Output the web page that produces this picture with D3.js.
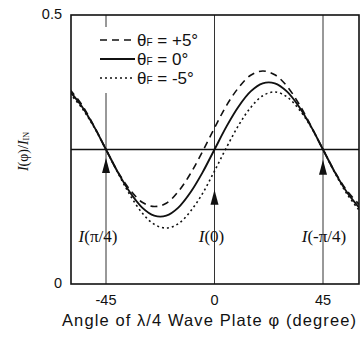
<!DOCTYPE html>
<html>
<head>
<meta charset="utf-8">
<script src="https://cdn.jsdelivr.net/npm/d3@7/dist/d3.min.js"></script>
<style>
  body { margin: 0; background: #fff; }
  svg { display: block; }
  .tick-label { font-family: "Liberation Sans", Arial, sans-serif; font-size: 14.5px; fill: #111; }
</style>
</head>
<body>
<div id="chart"></div>
<script>
// angle of the wave plate (degree)
const phi = [-60, -55, -50, -45, -40, -35, -30, -25, -20, -15, -10, -5, 0,
             5, 10, 15, 20, 25, 30, 35, 40, 45, 50, 55, 60];
// I(phi)/I_IN
const plus5  = [0.362, 0.333, 0.294, 0.25, 0.208, 0.175, 0.152, 0.144, 0.150, 0.172, 0.205, 0.246, 0.290,
                0.332, 0.365, 0.388, 0.396, 0.389, 0.368, 0.335, 0.294, 0.25, 0.208, 0.173, 0.148];
const zero   = [0.358, 0.330, 0.293, 0.25, 0.207, 0.170, 0.142, 0.127, 0.127, 0.142, 0.170, 0.207, 0.250,
                0.293, 0.330, 0.358, 0.373, 0.373, 0.358, 0.330, 0.293, 0.25, 0.207, 0.170, 0.142];
const minus5 = [0.354, 0.327, 0.292, 0.25, 0.206, 0.165, 0.132, 0.111, 0.104, 0.112, 0.135, 0.168, 0.210,
                0.254, 0.295, 0.328, 0.350, 0.357, 0.348, 0.325, 0.292, 0.25, 0.206, 0.167, 0.137];

const xTicks = [-45, 0, 45];
const yTicks = [0, 0.5];
const refLevel = 0.25;
// marked points: angle, arrow tip level, label
const marks = [-45, 0, 45];
const markTip = [0.234, 0.175, 0.231];
const markLabel = ["(π/4)", "(0)", "(-π/4)"];
const legendNames = ["+5°", "0°", "-5°"];

const W = 363, H = 337;
const box = { left: 71, right: 359, top: 15, bottom: 284 };

const x = d3.scaleLinear().domain([-45, 45]).range([106, 323]);
const y = d3.scaleLinear().domain([0, 0.5]).range([box.bottom, box.top]);

const svg = d3.select("#chart").append("svg").attr("width", W).attr("height", H);

svg.append("clipPath").attr("id", "clip")
  .append("rect").attr("x", box.left).attr("y", box.top)
  .attr("width", box.right - box.left).attr("height", box.bottom - box.top);

// vertical guide lines
svg.selectAll(".vline").data(marks).enter().append("line")
  .attr("x1", d => x(d)).attr("x2", d => x(d))
  .attr("y1", box.top).attr("y2", box.bottom)
  .attr("stroke", "#333").attr("stroke-width", 1);

// reference level
svg.append("line")
  .attr("x1", box.left).attr("x2", box.right)
  .attr("y1", y(refLevel)).attr("y2", y(refLevel))
  .attr("stroke", "#111").attr("stroke-width", 1.5);

// legend background hides the guide line behind it
svg.append("rect").attr("x", 96).attr("y", 27).attr("width", 113).attr("height", 66).attr("fill", "#fff");

const series = [
  { v: plus5, dash: "7,5", w: 1.6 },
  { v: zero, dash: null, w: 1.9 },
  { v: minus5, dash: "2,3", w: 1.6 }
];

const line = d3.line().x((d, i) => x(phi[i])).y(d => y(d)).curve(d3.curveCatmullRom);

const g = svg.append("g").attr("clip-path", "url(#clip)");
series.forEach(s => {
  g.append("path").datum(s.v)
    .attr("d", line)
    .attr("fill", "none")
    .attr("stroke", "#111")
    .attr("stroke-width", s.w)
    .attr("stroke-dasharray", s.dash);
});

// arrows
svg.selectAll(".arrow").data(marks).enter().append("path")
  .attr("d", (d, i) => {
    const cx = x(d), ty = y(markTip[i]);
    return `M${cx},${ty} L${cx - 4},${ty + 15} L${cx + 4},${ty + 15} Z`;
  })
  .attr("fill", "#111");

// mark labels
const lab = svg.selectAll(".mlab").data(marks).enter().append("text")
  .attr("x", (d, i) => x(d) + [-8, -3, 1][i])
  .attr("y", y(0.078))
  .attr("text-anchor", "middle")
  .style("font-family", "'Liberation Serif', 'Times New Roman', serif")
  .style("font-size", "17px")
  .attr("fill", "#111");
lab.append("tspan").style("font-style", "italic").text("I");
lab.append("tspan").text((d, i) => markLabel[i]);

// frame
svg.append("rect")
  .attr("x", box.left).attr("y", box.top)
  .attr("width", box.right - box.left).attr("height", box.bottom - box.top)
  .attr("fill", "none").attr("stroke", "#111").attr("stroke-width", 1.6);

// tick labels
svg.selectAll(".xt").data(xTicks).enter().append("text")
  .attr("class", "tick-label")
  .attr("x", d => x(d)).attr("y", 305)
  .attr("text-anchor", "middle")
  .text(d => d);

svg.selectAll(".yt").data(yTicks).enter().append("text")
  .attr("class", "tick-label")
  .attr("x", 62).attr("y", d => y(d) + 4)
  .attr("text-anchor", "end")
  .text(d => d);

// x title
svg.append("text")
  .attr("x", 209).attr("y", 326)
  .attr("text-anchor", "middle")
  .attr("textLength", 294)
  .attr("lengthAdjust", "spacing")
  .style("font-family", "'Liberation Sans', Arial, sans-serif")
  .style("font-size", "16.5px")
  .attr("fill", "#111")
  .text("Angle of λ/4 Wave Plate φ (degree)");

// y title
const yt = svg.append("text")
  .attr("transform", `translate(28,${(box.top + box.bottom) / 2 + 2}) rotate(-90)`)
  .attr("text-anchor", "middle")
  .style("font-family", "'Liberation Serif', 'Times New Roman', serif")
  .style("font-size", "14px")
  .attr("fill", "#111");
yt.append("tspan").style("font-style", "italic").text("I");
yt.append("tspan").text("(φ)/");
yt.append("tspan").style("font-style", "italic").text("I");
yt.append("tspan").style("font-size", "8px").attr("dy", 1).text("IN");

// legend
const leg = svg.selectAll(".leg").data(series).enter().append("g")
  .attr("transform", (d, i) => `translate(100,${40 + i * 19})`);
leg.append("line")
  .attr("x1", 0).attr("x2", 35).attr("y1", 0).attr("y2", 0)
  .attr("stroke", "#111").attr("stroke-width", d => d.w)
  .attr("stroke-dasharray", d => d.dash);
const lt = leg.append("text")
  .attr("x", 37).attr("y", 6)
  .style("font-family", "'Liberation Sans', Arial, sans-serif")
  .style("font-size", "17px")
  .attr("fill", "#111");
lt.append("tspan").text("θ");
lt.append("tspan").style("font-size", "10px").text("F");
lt.append("tspan").text((d, i) => " = " + legendNames[i]);
</script>
</body>
</html>
